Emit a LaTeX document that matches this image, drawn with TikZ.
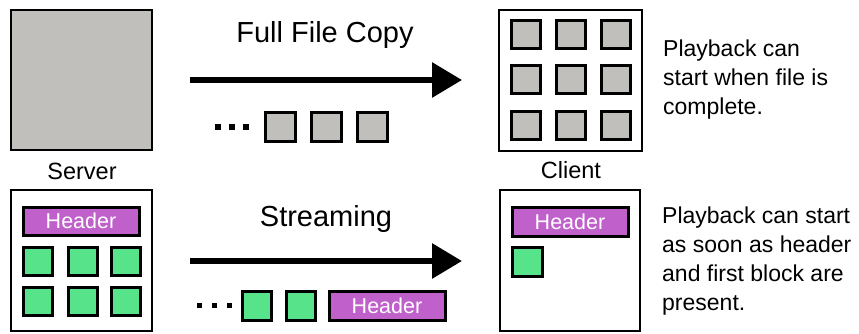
\documentclass[tikz,border=0pt]{standalone}
\usepackage{fontspec}
\setmainfont{Liberation Sans}
\usetikzlibrary{arrows.meta}
\definecolor{blockgray}{HTML}{C0BFBC}
\definecolor{blockgreen}{HTML}{57E389}
\definecolor{hdrpurple}{HTML}{C061CB}
\tikzset{
  frame/.style={draw=black, line width=2.8pt, inner sep=0pt},
  grayblk/.style={draw=black, line width=3pt, fill=blockgray, inner sep=0pt,
    minimum width=29pt, minimum height=28pt},
  greenblk/.style={draw=black, line width=3pt, fill=blockgreen, inner sep=0pt,
    minimum width=29pt, minimum height=28pt},
  hdrbar/.style={draw=black, line width=3pt, fill=hdrpurple, inner sep=0pt,
    minimum width=116pt, minimum height=28pt, text=white,
    font=\fontsize{21.5}{24}\selectfont},
  dotblk/.style={fill=black, inner sep=0pt, minimum size=5.5pt},
  title/.style={anchor=base, inner sep=0pt, font=\fontsize{29}{33}\selectfont},
  caption/.style={anchor=base, inner sep=0pt, font=\fontsize{23.5}{27}\selectfont},
  note/.style={anchor=base west, inner sep=0pt, font=\fontsize{23}{29}\selectfont},
  bigarrow/.style={line width=6pt, -{Triangle[length=30pt,width=34pt]}}
}
\begin{document}
\begin{tikzpicture}[x=1pt, y=-1pt]
\useasboundingbox (0,0) rectangle (859,334);

% ---------- full file copy ----------
\node[frame, fill=blockgray, minimum width=141pt, minimum height=140pt] (srv1) at (81.5,80) {};
\node[caption] (srvlbl) at (82,179) {Server};

\node[title] (t1) at (325,43) {Full File Copy};
\coordinate (a1s) at (190,80);
\coordinate (a1e) at (462,80);
\draw[bigarrow] (a1s) -- (a1e);

\node[dotblk] (d11) at (218,127) {};
\node[dotblk] (d12) at (232,127) {};
\node[dotblk] (d13) at (246,127) {};
\node[grayblk, minimum width=30pt, minimum height=29pt] (m11) at (280,127.5) {};
\node[grayblk, minimum width=30pt, minimum height=29pt] (m12) at (326,127.5) {};
\node[grayblk, minimum width=30pt, minimum height=29pt] (m13) at (372,127.5) {};

\node[frame, fill=white, minimum width=143pt, minimum height=141pt] (cli1) at (570.5,80.5) {};
\foreach \c/\x in {1/525.5,2/570.5,3/616}{
  \foreach \r/\y in {1/35,2/80,3/125.5}{
    \node[grayblk] (c\r\c) at (\x,\y) {};
  }
}
\node[caption] (clilbl) at (571,178) {Client};

\node[note] (n1) at (663,57) {\begin{tabular}[t]{@{}l@{}}Playback can\\start when file is\\complete.\end{tabular}};

% ---------- streaming ----------
\node[frame, fill=white, minimum width=141pt, minimum height=141pt] (srv2) at (81.5,260.5) {};
\node[hdrbar] (sh) at (81,221) {Header};
\foreach \c/\x in {1/37.5,2/82.5,3/125.5}{
  \foreach \r/\y in {1/261,2/301}{
    \node[greenblk] (s\r\c) at (\x,\y) {};
  }
}

\node[title] (t2) at (326,226) {Streaming};
\coordinate (a2s) at (190,261);
\coordinate (a2e) at (462,261);
\draw[bigarrow] (a2s) -- (a2e);

\node[dotblk] (d21) at (199.5,305.5) {};
\node[dotblk] (d22) at (214.5,305.5) {};
\node[dotblk] (d23) at (229.5,305.5) {};
\node[greenblk, minimum height=29pt] (m21) at (256.5,305.5) {};
\node[greenblk, minimum height=29pt] (m22) at (300.5,305.5) {};
\node[hdrbar, minimum height=29pt] (mh) at (387,305.5) {Header};

\node[frame, fill=white, minimum width=140pt, minimum height=141pt] (cli2) at (570,260.5) {};
\node[hdrbar, minimum height=29pt] (ch) at (570,221.5) {Header};
\node[greenblk, minimum width=30pt, minimum height=29pt] (cg) at (527,261.5) {};

\node[note] (n2) at (662,223) {\begin{tabular}[t]{@{}l@{}}Playback can start\\as soon as header\\and first block are\\present.\end{tabular}};
\end{tikzpicture}
\end{document}
